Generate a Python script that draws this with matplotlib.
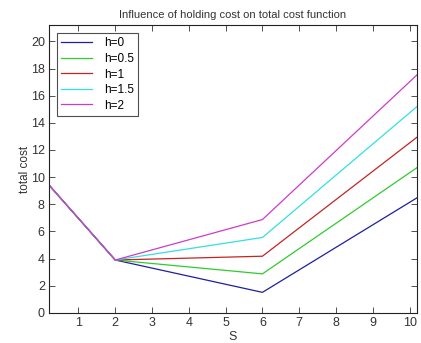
import matplotlib
matplotlib.use("Agg")
import matplotlib.pyplot as plt

plt.rcParams['font.family'] = ['Liberation Sans', 'DejaVu Sans']

# data
S = [0.2, 2, 6, 10.2]
labels = ["h=0", "h=0.5", "h=1", "h=1.5", "h=2"]
cost_h0 = [9.42, 3.9, 1.52, 8.48]
cost_h05 = [9.42, 3.9, 2.88, 10.7]
cost_h1 = [9.42, 3.9, 4.18, 12.94]
cost_h15 = [9.42, 3.9, 5.56, 15.2]
cost_h2 = [9.42, 3.9, 6.88, 17.53]
series = [cost_h0, cost_h05, cost_h1, cost_h15, cost_h2]
colors = ["#1f1fa0", "#2ecc2e", "#c42424", "#33e0e0", "#cc3ccc"]

fig = plt.figure(figsize=(4.21, 3.43), dpi=100)
ax = fig.add_axes([0.1164, 0.0875, 0.8741, 0.8395])

for y, lab, c in zip(series, labels, colors):
    ax.plot(S, y, color=c, lw=0.9, label=lab)

ax.set_xlim(0.2, 10.2)
ax.set_ylim(0, 21.2)
ax.set_xticks(range(1, 11))
ax.set_yticks(range(0, 21, 2))
ax.tick_params(direction='in', top=True, right=True, length=4, width=0.6,
               labelsize=9, colors='#333333', pad=3)
for sp in ax.spines.values():
    sp.set_linewidth(0.8)
    sp.set_color('#222222')

ax.set_title("Influence of holding cost on total cost function", fontsize=8, color='#333333', pad=5)
ax.set_xlabel("S", fontsize=9, color='#333333', labelpad=1)
ax.set_ylabel("total cost", fontsize=8.5, color='#333333', labelpad=0)

leg = ax.legend(loc='upper left', fontsize=8.5, frameon=True, fancybox=False,
                edgecolor='#222222', handlelength=2.6, handletextpad=1.0,
                labelspacing=0.3, borderaxespad=0.7, borderpad=0.35)
leg.get_frame().set_linewidth(0.8)

fig.savefig("out.png", dpi=100)
